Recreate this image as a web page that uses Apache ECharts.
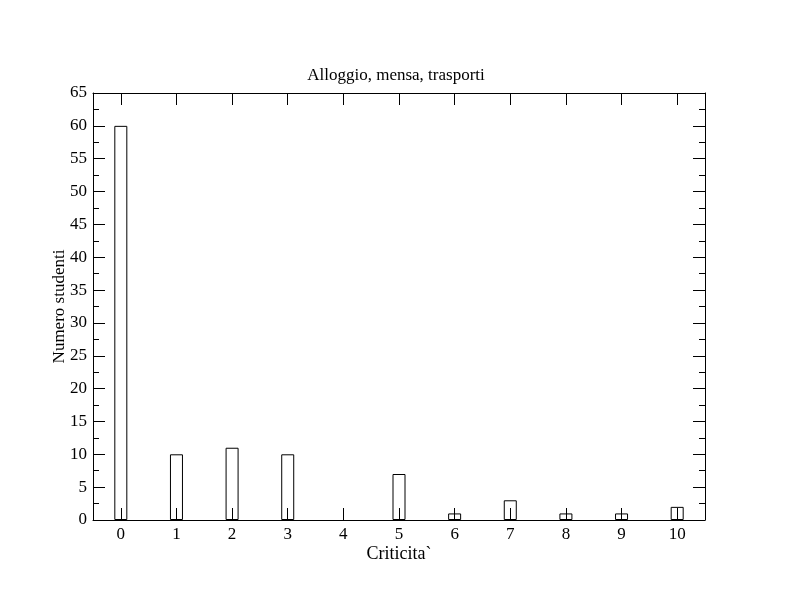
<!DOCTYPE html>
<html>
<head>
<meta charset="utf-8">
<script src="https://cdn.jsdelivr.net/npm/echarts@6/dist/echarts.min.js"></script>
<style>
  html, body { margin: 0; padding: 0; background: #fff; }
  #chart { width: 792px; height: 612px; }
</style>
</head>
<body>
<div id="chart"></div>
<script>
const categories = ['0', '1', '2', '3', '4', '5', '6', '7', '8', '9', '10'];
const studenti = [60, 10, 11, 10, 0, 7, 1, 3, 1, 1, 2];

const font = 'Liberation Serif';
const chart = echarts.init(document.getElementById('chart'));

function xAxisOpt(pos, extra) {
  return Object.assign({
    type: 'category',
    data: categories,
    position: pos,
    boundaryGap: true,
    axisLine: { show: true, onZero: false, lineStyle: { color: '#000', width: 1 } },
    axisTick: { show: true, interval: 0, inside: true, length: 12, alignWithLabel: true, lineStyle: { color: '#000', width: 1 } },
    splitLine: { show: false }
  }, extra);
}
function yAxisOpt(pos, extra) {
  return Object.assign({
    type: 'value',
    position: pos,
    min: 0,
    max: 65,
    interval: 5,
    axisLine: { show: true, lineStyle: { color: '#000', width: 1 } },
    axisTick: { show: true, inside: true, length: 12, lineStyle: { color: '#000' } },
    minorTick: { show: true, splitNumber: 2, length: 6, lineStyle: { color: '#000' } },
    splitLine: { show: false }
  }, extra);
}

chart.setOption({
  animation: false,
  backgroundColor: '#fff',
  title: {
    text: 'Alloggio, mensa, trasporti',
    left: 'center',
    top: 62,
    textStyle: { fontFamily: font, fontSize: 17, fontWeight: 'normal', color: '#000' }
  },
  grid: { left: 93, right: 87, top: 93, bottom: 92 },
  xAxis: [
    xAxisOpt('bottom', {
      name: 'Criticita`',
      nameLocation: 'middle',
      nameGap: 25,
      nameMoveOverlap: false,
      nameTextStyle: { fontFamily: font, fontSize: 18, color: '#000' },
      axisLabel: { fontFamily: font, fontSize: 17, color: '#000', margin: 6 }
    }),
    xAxisOpt('top', {
      axisLabel: { show: false }
    })
  ],
  yAxis: [
    yAxisOpt('left', {
      name: 'Numero studenti',
      nameLocation: 'middle',
      nameGap: 25,
      nameMoveOverlap: false,
      nameTextStyle: { fontFamily: font, fontSize: 17, color: '#000' },
      axisLabel: { fontFamily: font, fontSize: 17, color: '#000', margin: 6 }
    }),
    yAxisOpt('right', {
      axisLabel: { show: false }
    })
  ],
  series: [
    {
      type: 'bar',
      xAxisIndex: 0,
      yAxisIndex: 0,
      // zero counts draw no bar
      data: studenti.map(v => (v === 0 ? '-' : v)),
      barWidth: 13,
      itemStyle: { color: 'rgba(255,255,255,0)', borderColor: '#000', borderWidth: 1 }
    }
  ]
});
</script>
</body>
</html>
